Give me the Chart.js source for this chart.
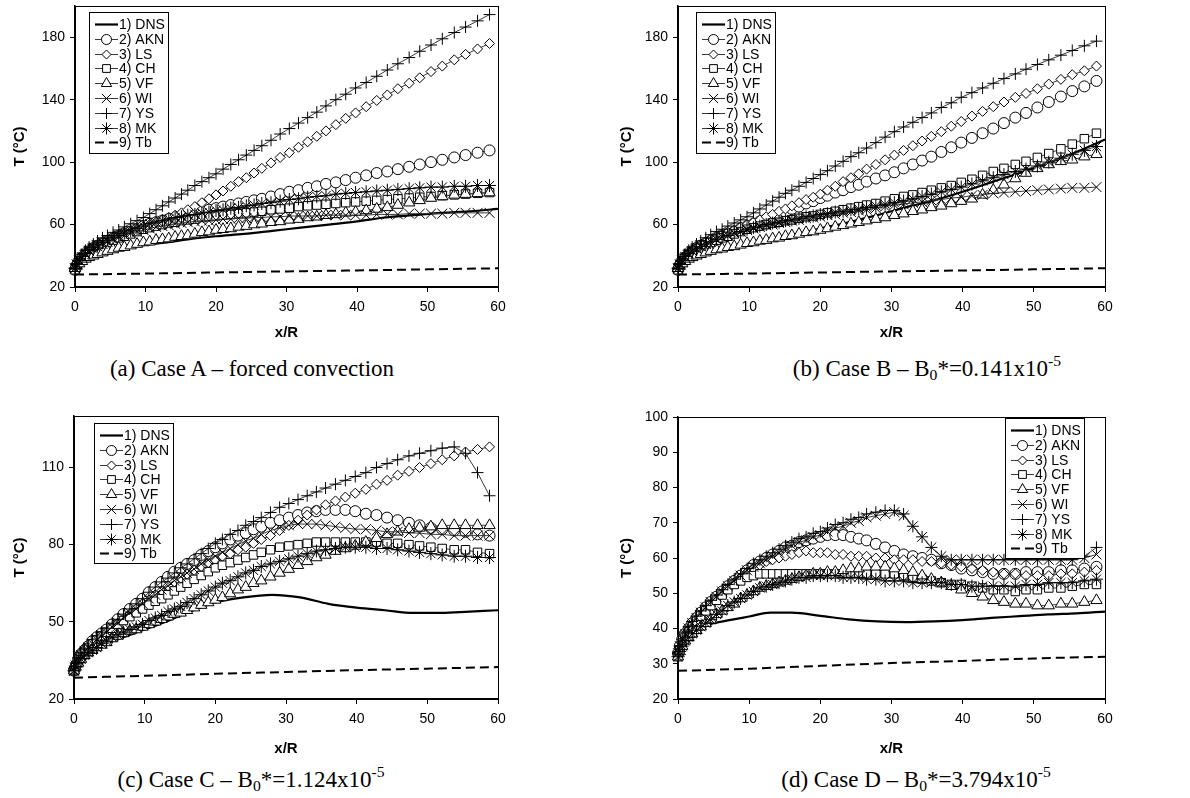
<!DOCTYPE html>
<html>
<head>
<meta charset="utf-8">
<title>Wall temperature along the pipe</title>
<script src="https://cdn.jsdelivr.net/npm/chart.js@4.4.0/dist/chart.umd.min.js"></script>
<style>
  body { margin: 0; background: #fff; }
  #fig { position: relative; width: 1190px; height: 798px; overflow: hidden; }
  #fig canvas { position: absolute; }
  .cap {
    position: absolute;
    font-family: "Liberation Serif", "Times New Roman", serif;
    font-size: 23px;
    color: #000;
    white-space: nowrap;
    transform: translate(-50%, -50%);
  }
  .cap sub, .cap sup { font-size: 0.68em; line-height: 0; }
  .cap sub { vertical-align: -0.28em; }
  .cap sup { vertical-align: 0.62em; }
</style>
</head>
<body>
<div id="fig">
  <canvas id="caseA" width="595" height="345" style="left:0;top:0"></canvas>
  <canvas id="caseB" width="595" height="345" style="left:595px;top:0"></canvas>
  <canvas id="caseC" width="595" height="358" style="left:0;top:400px"></canvas>
  <canvas id="caseD" width="595" height="358" style="left:595px;top:400px"></canvas>
  <div class="cap" style="left:252px;top:369px">(a) Case A – forced convection</div>
  <div class="cap" style="left:927px;top:369px">(b) Case B – B<sub>0</sub>*=0.141x10<sup>-5</sup></div>
  <div class="cap" style="left:251px;top:780px">(c) Case C – B<sub>0</sub>*=1.124x10<sup>-5</sup></div>
  <div class="cap" style="left:916px;top:780px">(d) Case D – B<sub>0</sub>*=3.794x10<sup>-5</sup></div>
</div>
<script>
// axial stations of the RANS model results (x/R)
const xR = [0, 0.25, 0.6, 1, 1.5, 2, 2.6, 3.2, 3.9, 4.6, 5.4, 6.2, 7, 7.9, 8.8, 9.7, 10.6, 11.5, 12.4, 13.3,
  14.2, 15.1, 16, 17, 18, 19, 20, 21, 22.1, 23.2, 24.3, 25.4, 26.5, 27.8, 29.1, 30.4, 31.7, 33, 34.3, 35.6,
  37, 38.4, 39.8, 41.3, 42.8, 44.3, 45.8, 47.4, 48.9, 50.5, 52.1, 53.8, 55.4, 57.1, 58.8];
// stations of the DNS wall temperature and of the bulk temperature
const dnsX = [0, 0.5, 1, 2, 3, 4, 5, 7, 10, 13, 16, 20, 24, 28, 32, 36, 40, 44, 48, 52, 56, 60];
const tbX = [0, 10, 20, 30, 40, 50, 60];

const seriesNames = ['1) DNS', '2) AKN', '3) LS', '4) CH', '5) VF', '6) WI', '7) YS', '8) MK', '9) Tb'];
const markerStyles = [null, 'circle', 'rectRot', 'rect', 'triangle', 'crossRot', 'cross', 'star', null];
const markerSizes = [0, 5.5, 5, 6, 6.5, 7, 6, 6.5, 0];

const ticksAB = [20, 60, 100, 140, 180];
const ticksC = [20, 50, 80, 110];
const ticksD = [20, 30, 40, 50, 60, 70, 80, 90, 100];

// ---- Case A: forced convection
const caseA_DNS = [33, 35.5, 37, 39.5, 41, 42.5, 43.5, 45, 47, 48.5, 50.5, 52.5, 54, 56, 58, 60, 62, 64.5, 66, 67.5, 68.5, 70];
const caseA_AKN = [31, 34, 36.5, 39, 41, 43, 45, 46.5, 48, 49.5, 51, 52.5, 54, 55.5, 57, 59, 60.5, 61.5, 62.5, 63.5,
  64.5, 65.5, 66.5, 67.5, 68.5, 69.5, 70.5, 71.5, 72.5, 73.5, 74.5, 75.5, 76.5, 78, 79.5, 81, 82, 83.5, 84.5, 86,
  87, 88.5, 90, 91.5, 93, 94, 95.5, 97, 98.5, 100, 101.5, 103, 104.5, 106, 107.5];
const caseA_LS = [31, 34, 36.5, 39, 41.5, 43.5, 45.5, 47, 48.5, 50, 51.5, 53, 54, 55.5, 57, 58.5, 60, 61.5, 63, 64.5,
  66, 67.5, 69.5, 71.5, 74, 76.5, 79, 81.5, 84.5, 87.5, 90, 93, 96, 99.5, 103, 106, 109.5, 113, 116.5, 120,
  124, 128, 131.5, 135.5, 139.5, 143, 147, 150.5, 154, 158, 161.5, 165.5, 169, 172.5, 176];
const caseA_CH = [31, 33.5, 36, 38.5, 40.5, 42.5, 44, 45.5, 47, 48.5, 50, 51.5, 52.5, 54, 55.5, 57, 58, 59, 60, 61,
  61.5, 62.5, 63, 63.5, 64.5, 65, 65.5, 66, 66.5, 67, 67.5, 68, 68.5, 69.5, 70, 70.5, 71.5, 72, 72.5, 73,
  73.5, 74, 74.5, 75, 75.5, 76, 76.5, 77, 77.5, 78, 78.5, 79, 79.5, 80, 80.5];
const caseA_VF = [32, 33.5, 35, 36.5, 38, 39, 40, 41, 42, 43, 44, 45, 45.5, 46.5, 47.5, 48.5, 49, 50, 50.5, 51,
  52, 52.5, 53, 54, 55, 55.5, 56.5, 57, 57.5, 58.5, 59, 60, 60.5, 61.5, 62, 63, 63.5, 64.5, 65, 66,
  66.5, 67.5, 68, 69, 70, 71, 72.5, 74, 75.5, 77, 78, 79, 79.5, 80, 80.5];
const caseA_WI = [32, 34.5, 37, 39, 41, 43, 44.5, 46, 47.5, 49, 50.5, 52, 53, 54.5, 55.5, 56.5, 57.5, 58.5, 59, 59.5,
  60.5, 61, 61.5, 62, 62.5, 62.5, 63, 63.5, 63.5, 64, 64, 64.5, 64.5, 65, 65, 65.5, 65.5, 65.5, 65.5, 66,
  66, 66, 66, 66, 66.5, 66.5, 66.5, 67, 67, 67, 67, 67.5, 67.5, 67.5, 67.5];
const caseA_YS = [32, 35, 38, 41, 43.5, 45.5, 47.5, 49.5, 51.5, 53, 55, 56.5, 58.5, 60.5, 62.5, 64.5, 67, 69.5, 72, 74.5,
  77, 79.5, 82, 85, 87.5, 90, 92.5, 95.5, 98.5, 101.5, 104.5, 107.5, 110.5, 114, 118, 121.5, 125, 128.5, 132, 136,
  140, 143.5, 147.5, 151, 155, 159, 163, 167, 171, 175, 179, 183, 186.5, 190.5, 194.5];
const caseA_MK = [32, 34.5, 37, 39.5, 41.5, 43.5, 45.5, 47, 48.5, 50, 51.5, 53, 54.5, 56, 57.5, 59, 60.5, 61.5, 62.5, 63.5,
  64.5, 65, 66, 66.5, 67.5, 68, 69, 69.5, 70.5, 71, 72, 72.5, 73.5, 74, 75, 76, 76.5, 77.5, 78, 78.5,
  79.5, 80, 80.5, 81, 81.5, 82, 82.5, 83, 83.5, 84, 84, 84.5, 84.5, 85, 85];
const caseA_Tb = [28, 28.6, 29.3, 30, 30.6, 31.3, 32];

// ---- Case B: B0* = 0.141e-5
const caseB_DNS = [33, 35.5, 37, 39.5, 41, 42, 43, 44.5, 47, 49.5, 53, 57.5, 61.5, 66, 71, 75.5, 81, 87, 93, 99.5, 106.5, 114.5];
const caseB_AKN = [31, 34, 36.5, 39, 41, 43, 45, 46.5, 48, 49.5, 51, 52.5, 54, 55.5, 57.5, 59, 60.5, 62, 63.5, 65,
  66.5, 68, 70, 71.5, 73.5, 75, 77, 78.5, 80.5, 82, 84, 85.5, 87.5, 89.5, 91.5, 93.5, 96, 98.5, 101, 103.5,
  106.5, 109.5, 112.5, 115.5, 118.5, 121.5, 125, 128.5, 131.5, 135, 138.5, 142, 145.5, 148.5, 152];
const caseB_LS = [31, 34, 36.5, 39, 41.5, 43.5, 45.5, 47, 49, 50.5, 52, 53.5, 55, 56.5, 58.5, 60, 61.5, 63, 65, 66.5,
  68.5, 70, 72, 74, 76, 77.5, 79.5, 82, 84.5, 87.5, 90, 92.5, 95.5, 98.5, 101.5, 104.5, 107.5, 110.5, 113.5, 116.5,
  119.5, 123, 126, 129.5, 132.5, 135.5, 138.5, 141.5, 144, 147, 150, 153, 156, 158.5, 161.5];
const caseB_CH = [31, 33.5, 36, 38.5, 40.5, 42.5, 44, 45.5, 47, 48.5, 50, 51.5, 52.5, 54, 55.5, 57, 58, 59, 60, 61,
  61.5, 62.5, 63, 64, 65, 65.5, 66.5, 67.5, 68.5, 69.5, 70.5, 71.5, 72.5, 73.5, 75, 76.5, 78, 79, 80.5, 82,
  83.5, 85, 87, 89, 91.5, 94, 96, 98.5, 100.5, 103, 105.5, 108.5, 111.5, 115, 118.5];
const caseB_VF = [32, 33.5, 35, 36.5, 38, 39, 40, 41, 42, 43, 44, 44.5, 45.5, 46, 47, 48, 48.5, 49.5, 50, 51,
  51.5, 52.5, 53, 54, 55, 55.5, 56.5, 57.5, 58.5, 59.5, 60.5, 61.5, 62.5, 63.5, 64.5, 66, 67, 68.5, 69.5, 71,
  72, 73.5, 75, 76.5, 79, 82, 85.5, 89.5, 93, 96, 98.5, 100.5, 101.5, 103.5, 105];
const caseB_WI = [32, 34.5, 37, 39, 41, 43, 44.5, 46, 47.5, 49, 50.5, 52, 53, 54.5, 55.5, 56.5, 57.5, 58.5, 59.5, 60,
  61, 61.5, 62.5, 63, 64, 64.5, 65, 66, 66.5, 67.5, 68, 69, 69.5, 70.5, 71.5, 72.5, 73, 74, 74.5, 75.5,
  76, 77, 77.5, 78.5, 79, 80, 80.5, 81, 81.5, 82, 82.5, 83, 83.5, 83.5, 84];
const caseB_YS = [32, 35, 38, 41, 43.5, 45.5, 47.5, 49.5, 51.5, 53.5, 55.5, 57, 59, 61, 63, 65, 67.5, 70, 72.5, 75,
  77.5, 80, 82, 84.5, 87, 89.5, 92, 94.5, 97.5, 100.5, 103.5, 106, 109, 112.5, 116, 119.5, 122.5, 125.5, 128.5, 131.5,
  135, 138, 141.5, 144.5, 147.5, 150.5, 153.5, 156.5, 159.5, 162.5, 165.5, 168.5, 171.5, 174.5, 177.5];
const caseB_MK = [32, 34.5, 37, 39.5, 41.5, 43, 44.5, 46, 47.5, 49, 50.5, 52, 53, 54.5, 55.5, 57, 58, 59, 60, 61,
  61.5, 62.5, 63, 64, 65, 65.5, 66.5, 67, 68, 68.5, 69.5, 70, 71, 72, 73, 74, 75, 76.5, 78, 79.5,
  81, 82.5, 84, 86, 88, 90, 92, 94, 95.5, 97.5, 100, 102.5, 105, 107.5, 110];
const caseB_Tb = [28, 28.6, 29.3, 30, 30.6, 31.3, 32];

// ---- Case C: B0* = 1.124e-5
const caseC_DNS = [32, 34.5, 36, 38.5, 40, 41, 42, 44, 47, 50, 53.5, 57.5, 59.5, 60.5, 59.5, 57, 55.5, 54.5, 53.5, 53.5, 54, 54.5];
const caseC_AKN = [31, 33, 35.5, 37.5, 39, 40.5, 42.5, 44, 45.5, 47, 49, 51, 53, 55, 57, 59, 61.5, 63.5, 65.5, 67.5,
  69.5, 71, 72.5, 74, 76, 77.5, 79, 80.5, 82, 83.5, 84.5, 86, 87, 88.5, 89.5, 90.5, 91.5, 92.5, 93, 93.5,
  93.5, 93.5, 93, 92, 91.5, 90.5, 89.5, 88.5, 87.5, 86.5, 86, 85.5, 85, 84, 83.5];
const caseC_LS = [31, 33, 35, 37, 38.5, 40, 41.5, 43, 44.5, 46, 47.5, 49.5, 51, 53, 55, 57, 58.5, 60.5, 62, 64,
  65.5, 67, 68.5, 70, 71.5, 73, 74, 75.5, 76.5, 78, 79, 80.5, 82, 83.5, 85.5, 87.5, 89.5, 91.5, 93.5, 95.5,
  97, 98.5, 100, 101.5, 103.5, 105, 107, 108.5, 110, 111.5, 113, 114.5, 116, 117, 118];
const caseC_CH = [31, 33, 35, 37, 38.5, 40, 41.5, 43, 44.5, 46, 47.5, 49, 50.5, 52, 53.5, 55, 56.5, 58, 59, 60.5,
  62, 63.5, 65, 66.5, 68, 69.5, 71, 72, 73, 74, 75, 76, 77, 78, 79, 79.5, 80, 80.5, 81, 81,
  81, 81, 81, 81, 81, 80.5, 80.5, 80, 79.5, 79, 78.5, 78, 78, 77, 76.5];
const caseC_VF = [31, 32.5, 34, 35.5, 37, 38, 39, 40, 41, 42, 43.5, 44.5, 45.5, 46.5, 47, 48, 49, 50, 51, 52,
  53, 53.5, 54.5, 55.5, 56.5, 57.5, 58.5, 59.5, 61, 62.5, 63.5, 65, 66, 67.5, 69, 70.5, 72, 73.5, 75, 76,
  77.5, 78.5, 79.5, 81, 82.5, 84, 85, 86, 86.5, 87, 87.5, 87.5, 87.5, 87.5, 87.5];
const caseC_WI = [31, 33, 35, 37, 38.5, 40, 41.5, 43, 44.5, 46, 48, 49.5, 51.5, 53.5, 55, 57, 59, 60.5, 62.5, 64,
  66, 67.5, 69, 70.5, 72.5, 74, 75.5, 77, 78.5, 80, 81.5, 82.5, 84, 85.5, 86.5, 87.5, 88, 88, 88, 87.5,
  87, 86.5, 86, 86, 85.5, 85, 85, 84.5, 84.5, 84, 84, 83.5, 83.5, 83.5, 83.5];
const caseC_YS = [32, 34, 36, 38, 39.5, 41, 43, 44.5, 46, 47.5, 49.5, 51, 53, 55, 57, 59, 61.5, 63.5, 65.5, 67,
  69, 71, 72.5, 74.5, 76.5, 78.5, 80.5, 82, 84, 85.5, 87.5, 89, 90.5, 92.5, 94.5, 96, 97.5, 99, 100.5, 102,
  103.5, 105, 106.5, 108, 110, 111.5, 113, 114.5, 115.5, 116.5, 117.5, 118, 115.5, 108, 99];
const caseC_MK = [31, 32.5, 34, 35.5, 37, 38, 39, 40, 41.5, 42.5, 44, 45, 46, 47, 48, 49, 50.5, 51.5, 52.5, 54,
  55, 56, 57.5, 59, 60.5, 62, 63.5, 65, 66, 67.5, 69, 70, 71.5, 72.5, 73.5, 74.5, 75.5, 76.5, 77.5, 78,
  78.5, 79, 79, 79, 78.5, 78.5, 78, 77.5, 77, 76.5, 76, 75.5, 75.5, 75, 75];
const caseC_Tb = [28.3, 29, 29.8, 30.5, 31.2, 31.8, 32.4];

// ---- Case D: B0* = 3.794e-5
const caseD_DNS = [33, 35, 36.5, 38.5, 40, 41, 41.5, 42.3, 43.4, 44.5, 44.5, 43.6, 42.6, 42, 41.8, 42, 42.4, 43, 43.5, 44, 44.3, 44.8];
const caseD_AKN = [33, 35, 37, 38.5, 40, 41.5, 43, 44.5, 46, 47.5, 49, 50.5, 52, 53.5, 55, 56.5, 58, 59, 60, 61,
  62, 63, 63.5, 64.5, 65, 65.5, 66, 66.5, 66.5, 66.5, 66, 65.5, 65, 64, 63, 62, 61, 60.5, 60, 59.5,
  58.5, 58, 57, 56.5, 56, 55.5, 55.5, 55.5, 56, 56, 56, 56.5, 56.5, 57, 57.5];
const caseD_LS = [33, 34.5, 36, 38, 39.5, 41, 42.5, 44, 45.5, 47, 48.5, 50, 51.5, 53, 54.5, 56, 57, 58, 59, 59.5,
  60, 60.5, 61, 61.5, 62, 61.5, 61.5, 61.5, 61, 61, 60.5, 60.5, 60.5, 60, 60, 59.5, 59.5, 59.5, 59, 59,
  58.5, 58, 57.5, 57, 56.5, 56, 55.5, 55.5, 55, 55, 55, 55.5, 55.5, 56, 56.5];
const caseD_CH = [32, 34, 36, 37.5, 39, 40.5, 42, 43.5, 45, 46.5, 48, 49.5, 51, 52.5, 53.5, 54.5, 55, 55.5, 55.5, 55.5,
  55.5, 55.5, 55.5, 55.5, 55.5, 55.5, 55.5, 55.5, 55.5, 55.5, 55.5, 55.5, 55.5, 55.5, 55.5, 55.5, 55, 54.5, 54, 53.5,
  53, 52.5, 52.5, 52, 51.5, 51, 51, 50.5, 51, 51, 51.5, 51.5, 52, 52.5, 52.5];
const caseD_VF = [32, 33.5, 35, 36.5, 37.5, 38.5, 39.5, 40.5, 41.5, 42.5, 44, 45, 46, 47, 48.5, 49.5, 50.5, 51.5, 52, 52.5,
  53, 53.5, 54, 54.5, 55, 55.5, 55.5, 56, 56, 56.5, 57, 57, 57.5, 57.5, 57.5, 57, 56.5, 56, 55, 54,
  53, 52, 51, 50, 49, 48, 47.5, 47, 47, 46.5, 46.5, 47, 47, 47.5, 48];
const caseD_WI = [33, 35, 37, 38.5, 40, 41.5, 43, 44.5, 46, 47.5, 49, 50.5, 52, 53.5, 55, 56.5, 57.5, 58.5, 59.5, 60.5,
  61.5, 62.5, 63.5, 64.5, 65, 66, 66.5, 67.5, 68.5, 69, 70, 70.5, 71.5, 72, 72.5, 73, 72, 69, 66, 63,
  60.5, 59.5, 59.5, 59.5, 59.5, 59.5, 59.5, 59.5, 59.5, 59.5, 59.5, 59.5, 59.5, 60, 61];
const caseD_YS = [33, 35, 37, 39, 40.5, 42, 43.5, 45, 46.5, 48, 49.5, 51, 52.5, 54, 55.5, 57, 58.5, 59.5, 60.5, 61.5,
  62.5, 63.5, 64.5, 65.5, 66, 67, 67.5, 68.5, 69.5, 70, 71, 71.5, 72.5, 73, 73.5, 73.5, 72.5, 69, 66, 63,
  60.5, 59.5, 59.5, 59.5, 59.5, 59.5, 59.5, 59.5, 59.5, 59.5, 59.5, 59.5, 59.5, 60.5, 63];
const caseD_MK = [32, 33.5, 35, 36.5, 37.5, 38.5, 39.5, 40.5, 41.5, 42.5, 44, 45, 46.5, 47.5, 48.5, 49.5, 50.5, 51.5, 52, 52.5,
  53, 53.5, 54, 54.5, 54.5, 55, 55, 55, 55, 54.5, 54.5, 54.5, 54, 54, 53.5, 53.5, 53.5, 53, 53, 53,
  53, 52.5, 52.5, 52, 52, 52, 52, 52, 52.5, 52.5, 53, 53, 53, 53.5, 54];
const caseD_Tb = [28, 28.6, 29.4, 30.2, 30.8, 31.5, 32];

const FONT = '"Liberation Sans", Arial, sans-serif';
const LEG_W = 79, LEG_ROW = 14.8;

// panel layout: canvas id, plot box inside the canvas, y axis, legend corner
const panels = [
  { id: 'caseA', h: 345, box: { left: 75, right: 498, top: 6, bottom: 287 }, yMin: 20, yMax: 200, yTicks: ticksAB,
    yTitlePad: 11, xTitlePad: 3, legend: { x: 89, y: 12, h: 141 },
    series: [caseA_DNS, caseA_AKN, caseA_LS, caseA_CH, caseA_VF, caseA_WI, caseA_YS, caseA_MK, caseA_Tb] },
  { id: 'caseB', h: 345, box: { left: 83, right: 510, top: 6, bottom: 287 }, yMin: 20, yMax: 200, yTicks: ticksAB,
    yTitlePad: 23, xTitlePad: 3, legend: { x: 101, y: 12, h: 141 },
    series: [caseB_DNS, caseB_AKN, caseB_LS, caseB_CH, caseB_VF, caseB_WI, caseB_YS, caseB_MK, caseB_Tb] },
  { id: 'caseC', h: 358, box: { left: 74, right: 498, top: 16, bottom: 299 }, yMin: 20, yMax: 130, yTicks: ticksC,
    yTitlePad: 11, xTitlePad: 0, legend: { x: 94, y: 23, h: 140 },
    series: [caseC_DNS, caseC_AKN, caseC_LS, caseC_CH, caseC_VF, caseC_WI, caseC_YS, caseC_MK, caseC_Tb] },
  { id: 'caseD', h: 358, box: { left: 83, right: 510, top: 17, bottom: 299 }, yMin: 20, yMax: 100, yTicks: ticksD,
    yTitlePad: 23, xTitlePad: 0, legend: { x: 410, y: 18, h: 140 },
    series: [caseD_DNS, caseD_AKN, caseD_LS, caseD_CH, caseD_VF, caseD_WI, caseD_YS, caseD_MK, caseD_Tb] }
];

function toPoints(xs, ys) {
  return xs.map((x, i) => ({ x: x, y: ys[i] }));
}

function buildDatasets(series) {
  return series.map((vals, i) => {
    const isDNS = i === 0, isTb = i === 8;
    const ds = {
      label: seriesNames[i],
      data: toPoints(isDNS ? dnsX : isTb ? tbX : xR, vals),
      showLine: true,
      order: 9 - i,          // later series drawn on top
      clip: false,
      borderColor: '#000',
      backgroundColor: '#fff'
    };
    if (isDNS || isTb) {
      ds.borderWidth = isDNS ? 2.2 : 2;
      ds.pointRadius = 0;
      ds.cubicInterpolationMode = 'monotone';
      if (isTb) ds.borderDash = [9, 5];
    } else {
      ds.borderColor = '#3a3a3a';
      ds.borderWidth = 1;
      ds.pointStyle = markerStyles[i];
      ds.pointRadius = markerSizes[i];
      ds.pointBorderColor = '#000';
      ds.pointBackgroundColor = '#fff';
      ds.pointBorderWidth = 1;
    }
    return ds;
  });
}

// frame round the plot area
const plotFrame = {
  id: 'plotFrame',
  afterDatasetsDraw(chart) {
    const { ctx, chartArea: a } = chart;
    ctx.save();
    ctx.strokeStyle = '#000';
    ctx.lineWidth = 1;
    ctx.strokeRect(Math.round(a.left) + 0.5, Math.round(a.top) + 0.5, Math.round(a.right - a.left), Math.round(a.bottom - a.top));
    ctx.restore();
  }
};

// boxed legend with line sample and marker, drawn inside the plot
const boxLegend = {
  id: 'boxLegend',
  afterDraw(chart, args, opts) {
    const ctx = chart.ctx;
    const x0 = opts.x, y0 = opts.y;
    ctx.save();
    ctx.fillStyle = '#fff';
    ctx.fillRect(x0, y0, LEG_W, opts.h);
    ctx.strokeStyle = '#000';
    ctx.lineWidth = 1;
    ctx.strokeRect(x0 + 0.5, y0 + 0.5, LEG_W, opts.h);
    chart.data.datasets.forEach((ds, i) => {
      const cy = Math.round(y0 + 12 + i * LEG_ROW) + 0.5;
      ctx.save();
      ctx.strokeStyle = ds.borderColor;
      ctx.lineWidth = ds.borderWidth;
      ctx.setLineDash(ds.borderDash || []);
      ctx.beginPath();
      ctx.moveTo(x0 + 6, cy);
      ctx.lineTo(x0 + 29, cy);
      ctx.stroke();
      ctx.restore();
      if (ds.pointStyle) {
        ctx.save();
        ctx.fillStyle = '#fff';
        ctx.strokeStyle = '#000';
        ctx.lineWidth = 1;
        Chart.helpers.drawPoint(ctx, { pointStyle: ds.pointStyle, radius: ds.pointRadius - 0.5, rotation: 0, borderWidth: 1 }, x0 + 17.5, cy);
        ctx.restore();
      }
      ctx.fillStyle = '#000';
      ctx.font = '14px ' + FONT;
      ctx.textBaseline = 'middle';
      ctx.textAlign = 'left';
      ctx.fillText(ds.label, x0 + 30, cy + 0.5);
    });
    ctx.restore();
  }
};

function makeChart(p) {
  const canvas = document.getElementById(p.id);
  const W = canvas.width;
  return new Chart(canvas, {
    type: 'scatter',
    data: { datasets: buildDatasets(p.series) },
    plugins: [plotFrame, boxLegend],
    options: {
      responsive: false,
      animation: false,
      events: [],
      layout: { autoPadding: false, padding: { left: 0, top: p.box.top, right: W - p.box.right, bottom: 0 } },
      plugins: {
        legend: { display: false },
        tooltip: { enabled: false },
        boxLegend: p.legend
      },
      scales: {
        x: {
          type: 'linear',
          min: 0,
          max: 60,
          ticks: { stepSize: 10, color: '#000', font: { family: FONT, size: 14 }, padding: 7, maxRotation: 0 },
          grid: { drawOnChartArea: false, tickLength: 5, color: '#000' },
          border: { color: '#000', width: 1.5 },
          title: { display: true, text: 'x/R', color: '#000', font: { family: FONT, size: 15, weight: 'bold' },
                   padding: { top: 0, bottom: p.xTitlePad } },
          afterFit(s) { s.height = p.h - p.box.bottom; s.paddingLeft = 0; s.paddingRight = 0; }
        },
        y: {
          type: 'linear',
          min: p.yMin,
          max: p.yMax,
          afterBuildTicks(s) { s.ticks = p.yTicks.map(v => ({ value: v })); },
          ticks: { color: '#000', font: { family: FONT, size: 14 }, padding: 5 },
          grid: { drawOnChartArea: false, tickLength: 5, color: '#000' },
          border: { color: '#000', width: 1.5 },
          title: { display: true, text: 'T (°C)', color: '#000', font: { family: FONT, size: 15, weight: 'bold' },
                   padding: { top: p.yTitlePad, bottom: 0 } },
          afterFit(s) { s.width = p.box.left; s.paddingTop = 0; s.paddingBottom = 0; }
        }
      }
    }
  });
}

panels.forEach(makeChart);
</script>
</body>
</html>
